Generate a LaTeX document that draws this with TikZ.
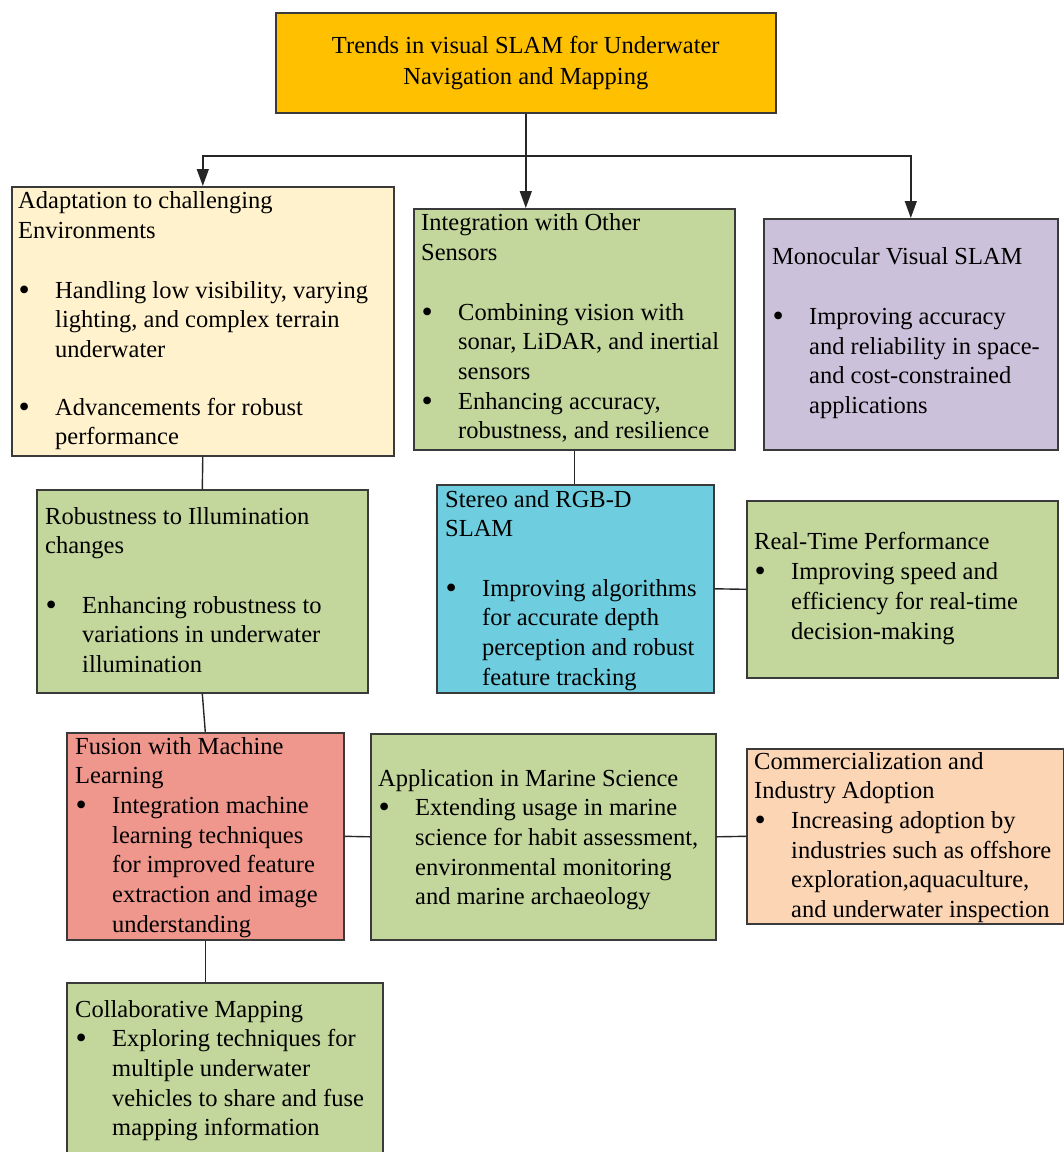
\documentclass[tikz,border=0pt]{standalone}
\usepackage{fontspec}
\setmainfont{Liberation Serif}
\usetikzlibrary{arrows.meta}

\definecolor{titlefill}{HTML}{FFC000}
\definecolor{creamfill}{HTML}{FFF2CC}
\definecolor{greenfill}{HTML}{C3D69B}
\definecolor{lilacfill}{HTML}{CCC1DA}
\definecolor{cyanfill}{HTML}{6ECDDE}
\definecolor{redfill}{HTML}{EF968D}
\definecolor{peachfill}{HTML}{FCD5B5}
\definecolor{boxline}{HTML}{3A3A3A}
\definecolor{linecol}{HTML}{262626}

% bullet and hanging indent for list items
\newcommand\bul{\makebox[37pt][l]{\hspace{0.5pt}\raisebox{-2pt}{\fontsize{32}{30}\selectfont\textbullet}}}
\newcommand\ind{\hspace*{37pt}}

\begin{document}
\begin{tikzpicture}[x=1pt,y=-1pt,
  box/.style={draw=boxline, line width=1.6pt, rectangle, inner sep=0pt, anchor=north west},
  txt/.style={anchor=north west, inner sep=0pt, align=left, text=black,
              font=\fontsize{24.5}{29.7}\selectfont},
  link/.style={draw=linecol, line width=1.4pt},
  arr/.style={link, -{Triangle[length=17pt,width=12pt]}}]

\useasboundingbox (0,0) rectangle (1064,1152);
\clip (0,0) rectangle (1064,1152);

% boxes
\node[box, fill=titlefill, minimum width=500pt, minimum height=100pt] (T) at (275,12) {};
\node[box, fill=creamfill, minimum width=382pt, minimum height=269pt] (A) at (11,186) {};
\node[box, fill=greenfill, minimum width=321pt, minimum height=241pt] (B) at (413,208) {};
\node[box, fill=lilacfill, minimum width=294pt, minimum height=231pt] (C) at (763,218) {};
\node[box, fill=greenfill, minimum width=331pt, minimum height=203pt] (D) at (36,489) {};
\node[box, fill=cyanfill,  minimum width=277pt, minimum height=208pt] (E) at (436,484) {};
\node[box, fill=greenfill, minimum width=311pt, minimum height=177pt] (F) at (746,500) {};
\node[box, fill=redfill,   minimum width=277pt, minimum height=207pt] (G) at (66,732) {};
\node[box, fill=greenfill, minimum width=345pt, minimum height=206pt] (H) at (370,733) {};
\node[box, fill=peachfill, minimum width=317pt, minimum height=175pt] (I) at (746,748) {};
\node[box, fill=greenfill, minimum width=316pt, minimum height=190pt] (J) at (66,982) {};

% texts
\node[inner sep=0pt, align=center, font=\fontsize{24.5}{30.5}\selectfont] (Tt) at (T.center)
  {Trends in visual SLAM for Underwater\\Navigation and Mapping};

\node[txt] (At) at (18,188) {\strut Adaptation to challenging\\
Environments\\[29.7pt]
\bul Handling low visibility, varying\\
\ind lighting, and complex terrain\\
\ind underwater\\[28pt]
\bul Advancements for robust\\
\ind performance};

\node[txt] (Bt) at (421,210) {\strut Integration with Other\\
Sensors\\[29.7pt]
\bul Combining vision with\\
\ind sonar, LiDAR, and inertial\\
\ind sensors\\
\bul Enhancing accuracy,\\
\ind robustness, and resilience};

\node[txt] (Ct) at (772,244) {\strut Monocular Visual SLAM\\[29.7pt]
\bul Improving accuracy\\
\ind and reliability in space-\\
\ind and cost-constrained\\
\ind applications};

\node[txt] (Dt) at (45,503) {\strut Robustness to Illumination\\
changes\\[29.7pt]
\bul Enhancing robustness to\\
\ind variations in underwater\\
\ind illumination};

\node[txt] (Et) at (445,486) {\strut Stereo and RGB-D\\
SLAM\\[29.7pt]
\bul Improving algorithms\\
\ind for accurate depth\\
\ind perception and robust\\
\ind feature tracking};

\node[txt] (Ft) at (754,529) {\strut Real-Time Performance\\
\bul Improving speed and\\
\ind efficiency for real-time\\
\ind decision-making};

\node[txt] (Gt) at (75,733) {\strut Fusion with Machine\\
Learning\\
\bul Integration machine\\
\ind learning techniques\\
\ind for improved feature\\
\ind extraction and image\\
\ind understanding};

\node[txt] (Ht) at (378,765) {\strut Application in Marine Science\\
\bul Extending usage in marine\\
\ind science for habit assessment,\\
\ind environmental monitoring\\
\ind and marine archaeology};

\node[txt] (It) at (754,748) {\strut Commercialization and\\
Industry Adoption\\
\bul Increasing adoption by\\
\ind industries such as offshore\\
\ind exploration,aquaculture,\\
\ind and underwater inspection};

\node[txt] (Jt) at (75,996) {\strut Collaborative Mapping\\
\bul Exploring techniques for\\
\ind multiple underwater\\
\ind vehicles to share and fuse\\
\ind mapping information};

% connectors
\coordinate (bus) at (T.south |- 0,156);
\draw[link] (T.south) -- (bus);
\draw[arr] (bus) -| (A.north);
\draw[arr] (bus) -| (C.north);
\draw[arr] (bus) -- (bus |- B.north);
\draw[link] (A.south) -- (D.north);
\draw[link] (B.south) -- (B.south |- E.north);
\draw[link] (E.east) -- (F.west);
\draw[link] (D.south) -- (G.north);
\draw[link] (G.east) -- (H.west);
\draw[link] (H.east) -- (I.west);
\draw[link] (G.south) -- (G.south |- J.north);
\end{tikzpicture}
\end{document}
